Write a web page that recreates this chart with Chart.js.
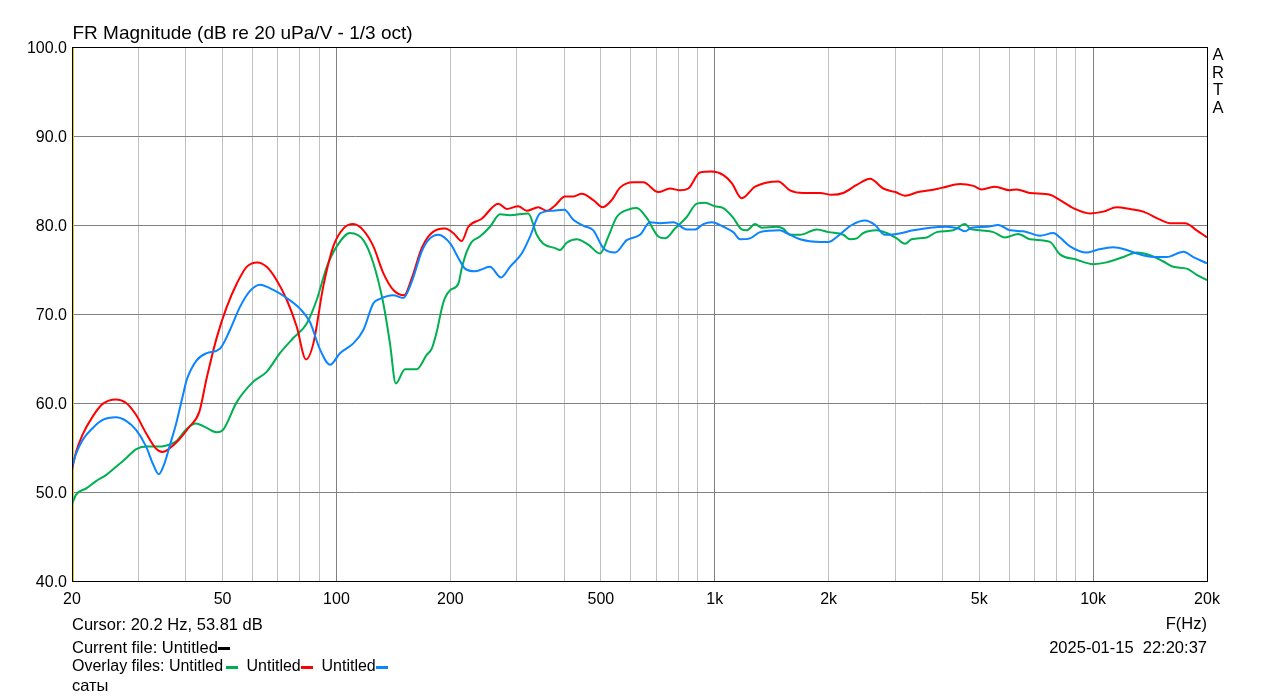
<!DOCTYPE html>
<html>
<head>
<meta charset="utf-8">
<title>FR Magnitude</title>
<script src="https://cdn.jsdelivr.net/npm/chart.js@4.4.1/dist/chart.umd.min.js"></script>
<style>
body{margin:0;background:#fff;font-family:'Liberation Sans',Arial,sans-serif;color:#000}
#wrap{position:relative;width:1279px;height:699px;overflow:hidden}
#chart{position:absolute;left:0;top:0}
.t{position:absolute;white-space:pre;line-height:1;font-size:16.5px}
.sw{position:absolute;width:12px;height:3px}
</style>
</head>
<body>
<div id="wrap">
  <canvas id="chart" width="1279" height="699"></canvas>
  <div class="t" style="left:72.5px;top:23.2px;font-size:19px">FR Magnitude (dB re 20 uPa/V - 1/3 oct)</div>
  <div class="t" style="left:1208px;top:46px;width:20px;text-align:center;line-height:17.5px">A<br>R<br>T<br>A</div>
  <div class="t" style="left:72px;top:615.5px">Cursor: 20.2 Hz, 53.81 dB</div>
  <div class="t" style="left:72px;top:639px">Current file: Untitled</div>
  <div class="sw" style="left:218px;top:647px;background:#000"></div>
  <div class="t" style="left:72px;top:657.5px;font-size:16px">Overlay files: Untitled</div>
  <div class="sw" style="left:226px;top:666px;background:#00b050"></div>
  <div class="t" style="left:246.5px;top:657.5px;font-size:16px">Untitled</div>
  <div class="sw" style="left:301px;top:666px;background:#ff0000"></div>
  <div class="t" style="left:321.5px;top:657.5px;font-size:16px">Untitled</div>
  <div class="sw" style="left:376px;top:666px;background:#0a84ff"></div>
  <div class="t" style="left:72px;top:676.5px">саты</div>
  <div class="t" style="right:72px;top:615px">F(Hz)</div>
  <div class="t" style="right:72px;top:639px">2025-01-15  22:20:37</div>
</div>
<script>
'use strict';

// frequency grid lines and labelled ticks
const gridFreqs = [20,30,40,50,60,70,80,90,100,200,300,400,500,600,700,800,900,
  1000,2000,3000,4000,5000,6000,7000,8000,9000,10000,20000];
const decades = [100,1000,10000];
const freqLabels = {20:'20',50:'50',100:'100',200:'200',500:'500',1000:'1k',2000:'2k',5000:'5k',10000:'10k',20000:'20k'};

// overlay 1 (green)
const freqGreen = [20,20.5,21.8,23.1,24.6,26.1,27.8,29.5,31.4,33.3,35.4,37.7,40,42.5,45.4,48.3,50.2,54.5,60.3,65.4,
  70.9,76.9,83.4,88.7,94.3,100.2,108.6,117.8,125.2,133,138.5,143.5,151.8,163,173.2,178.6,184.1,189.8,193.6,200,
  210,214.3,221,227.8,239.5,254.6,270.6,287.5,321.5,338.4,352.2,378.3,389.9,406.1,431.5,463.1,497.3,523.1,550.6,597,
  621.8,660.8,709,738.8,785,843,896,942.4,1000,1054,1119,1178,1214,1278,1331,1458,1517,1580,1680,1860,
  2000,2186,2278,2372,2470,2680,2846,3026,3183,3316,3632,3860,4270,4586,4728,5024,5448,5850,6344,6812,
  7691,8175,9052,10000,10860,12020,13040,14140,15330,16290,17680,18790,20000];
const dbGreen = [48.6,49.7,50.4,51.2,51.9,52.8,53.8,54.8,55.1,55.1,55.2,55.7,57.0,57.7,57.2,56.7,57.0,60.1,62.4,63.5,
  65.6,67.3,68.9,71.6,75.3,77.6,79.1,78.3,75.7,71.2,66.7,62.2,63.8,63.8,65.4,66.1,68.0,70.6,71.8,72.7,
  73.4,75.1,77.0,78.1,78.7,79.8,81.2,81.1,81.3,78.9,77.9,77.4,77.2,78.0,78.4,77.8,76.8,78.7,80.9,81.8,
  81.9,80.8,78.7,78.5,79.6,80.9,82.4,82.5,82.1,81.9,80.8,79.5,79.4,80.1,79.7,79.8,79.6,78.9,78.9,79.5,
  79.2,78.9,78.4,78.5,79.1,79.4,79.1,78.5,77.9,78.4,78.6,79.2,79.4,80.1,79.6,79.4,79.2,78.6,79.0,78.4,
  78.1,76.7,76.1,75.6,75.8,76.4,76.9,76.6,75.9,75.3,75.1,74.4,73.8];

// overlay 2 (red)
const freqRed = [20,20.5,21.3,22.7,24.1,26.1,27.8,29.5,31.4,33.3,34.7,36.2,38.4,40.8,43.4,45.4,48.3,51.3,54.5,57.9,
  61.8,65.4,69.5,73.9,78.5,83.1,86.9,92.3,98.1,104.3,110.8,117.8,125.2,133,141.4,151,158.1,168,174.9,185,
  193.6,203.6,214.3,223.2,242.1,267.8,281.9,302.4,318.3,341.7,359.6,378.3,401.9,422.7,444.9,477.5,505.5,534,561.8,609.1,
  647.3,709,761.4,809.2,851.2,914,981.6,1054,1109,1178,1278,1472,1580,1714,1897,2037,2186,2372,2573,2789,
  3000,3183,3452,3706,4000,4449,4824,5076,5504,6030,6281,6812,7691,8175,8863,9812,10640,11540,12520,13570,
  15030,15970,17500,18790,20000];
const dbRed = [52.5,54.5,56.4,58.5,59.9,60.4,60.0,58.7,56.6,54.9,54.5,54.9,55.9,57.3,59.0,62.8,67.4,70.8,73.4,75.3,
  75.8,75.3,73.8,71.6,68.6,64.9,66.7,73.1,77.6,79.6,80.1,79.4,77.6,74.6,72.7,72.1,74.0,77.4,78.7,79.5,
  79.6,79.1,78.2,79.8,80.7,82.4,81.8,82.1,81.6,82.0,81.6,82.2,83.2,83.2,83.5,82.8,82.0,82.8,84.2,84.8,
  84.8,83.7,84.1,83.9,84.1,85.9,86.0,85.6,84.7,83.0,84.3,84.9,83.9,83.6,83.6,83.4,83.6,84.5,85.2,84.1,
  83.7,83.3,83.7,83.9,84.2,84.6,84.4,84.0,84.3,83.9,84.0,83.6,83.4,82.8,81.9,81.3,81.5,82.0,81.8,81.5,
  80.6,80.2,80.2,79.4,78.6];

// overlay 3 (blue)
const freqBlue = [20,20.5,21.3,22.7,24.1,26.1,27.8,29.5,31.4,32.7,33.9,35.1,36.2,37.7,39.2,40.2,42.7,45.4,49.2,52.3,
  55.6,59.1,62.8,68.1,73.9,80.1,85.1,90.5,96.2,102.2,110.8,117.8,125.2,130.4,141.4,150.2,158.1,168,174.9,185.9,
  200,210,218.7,232.4,254.6,272.2,287.5,308.8,324.9,345.2,374.4,400.2,422.7,450,477.5,507.4,544.9,585.1,634.4,674.4,
  716.8,777.2,843,886.8,932.6,981.6,1054,1119,1166,1239,1317,1487,1549,1680,1897,2000,2094,2302,2496,2652,
  2818,3026,3348,3706,4102,4404,4586,4777,5234,5617,6030,6540,7238,7852,8175,8690,9621,10220,11310,12270,
  13040,14430,15660,17320,18400,20000];
const dbBlue = [52.8,54.3,55.8,57.2,58.1,58.4,58.0,57.0,55.1,53.2,52.0,53.2,55.1,57.7,60.7,62.6,64.8,65.6,66.1,68.2,
  70.8,72.6,73.3,72.7,71.8,70.6,69.1,66.0,64.3,65.6,66.7,68.2,71.2,71.7,72.1,71.8,73.6,77.0,78.3,78.9,
  77.9,76.3,75.1,74.8,75.3,74.1,75.3,76.8,78.7,81.3,81.6,81.7,80.6,79.9,79.4,77.4,76.9,78.3,78.9,80.3,
  80.2,80.3,79.5,79.5,80.1,80.3,79.8,79.2,78.4,78.5,79.2,79.4,79.1,78.4,78.1,78.1,78.6,80.0,80.5,80.0,
  78.9,79.0,79.4,79.7,79.8,79.6,79.3,79.7,79.8,80.0,79.4,79.3,78.8,79.1,78.6,77.6,76.9,77.2,77.5,77.2,
  76.8,76.4,76.4,77.0,76.4,75.7];

const CURSOR_HZ = 20.2;
const pts = (f, d) => f.map((v, i) => ({x: v, y: d[i]}));
const line = (label, f, d, color, order) => ({label, data: pts(f, d), borderColor: color, borderWidth: 2,
  pointRadius: 0, fill: false, cubicInterpolationMode: 'monotone', order});

// yellow cursor under the curves, black frame on top
const plotDecor = {
  id: 'plotDecor',
  beforeDatasetsDraw(c){
    const {ctx, chartArea: a} = c;
    const px = c.scales.x.getPixelForValue(CURSOR_HZ);
    ctx.save();
    ctx.fillStyle = '#dccc00';
    ctx.fillRect(Math.floor(px) - 0.5, a.top, 1.5, a.bottom - a.top);
    ctx.restore();
  },
  afterDraw(c){
    const {ctx, chartArea: a} = c;
    ctx.save();
    ctx.strokeStyle = '#000';
    ctx.lineWidth = 1;
    ctx.strokeRect(a.left + 0.5, a.top + 0.5, a.right - a.left, a.bottom - a.top);
    ctx.restore();
  }
};

Chart.defaults.font.family = "'Liberation Sans', Arial, sans-serif";
Chart.defaults.font.size = 16;
Chart.defaults.color = '#000';

new Chart(document.getElementById('chart'), {
  type: 'line',
  data: {datasets: [
    line('Untitled (green)', freqGreen, dbGreen, '#00b050', 3),
    line('Untitled (red)', freqRed, dbRed, '#ff0000', 2),
    line('Untitled (blue)', freqBlue, dbBlue, '#0a84ff', 1)
  ]},
  options: {
    responsive: false,
    animation: false,
    devicePixelRatio: 1,
    layout: {padding: {left: 0, right: 72, top: 47, bottom: 78}},
    plugins: {legend: {display: false}, tooltip: {enabled: false}},
    scales: {
      x: {
        type: 'logarithmic', min: 20, max: 20000,
        border: {display: false},
        afterBuildTicks: s => { s.ticks = gridFreqs.map(v => ({value: v})); },
        afterFit: s => { s.height = 40; },
        grid: {drawTicks: false, lineWidth: 1,
          color: ctx => decades.includes(ctx.tick && ctx.tick.value) ? '#808080' : '#c0c0c0'},
        ticks: {autoSkip: false, maxRotation: 0, padding: 9,
          callback: v => freqLabels[v] || ''}
      },
      y: {
        min: 40, max: 100,
        border: {display: false},
        afterFit: s => { s.width = 72; },
        grid: {drawTicks: false, color: '#808080', lineWidth: 1},
        ticks: {stepSize: 10, padding: 5, labelOffset: 1.5, callback: v => v.toFixed(1)}
      }
    }
  },
  plugins: [plotDecor]
});
</script>
</body>
</html>
